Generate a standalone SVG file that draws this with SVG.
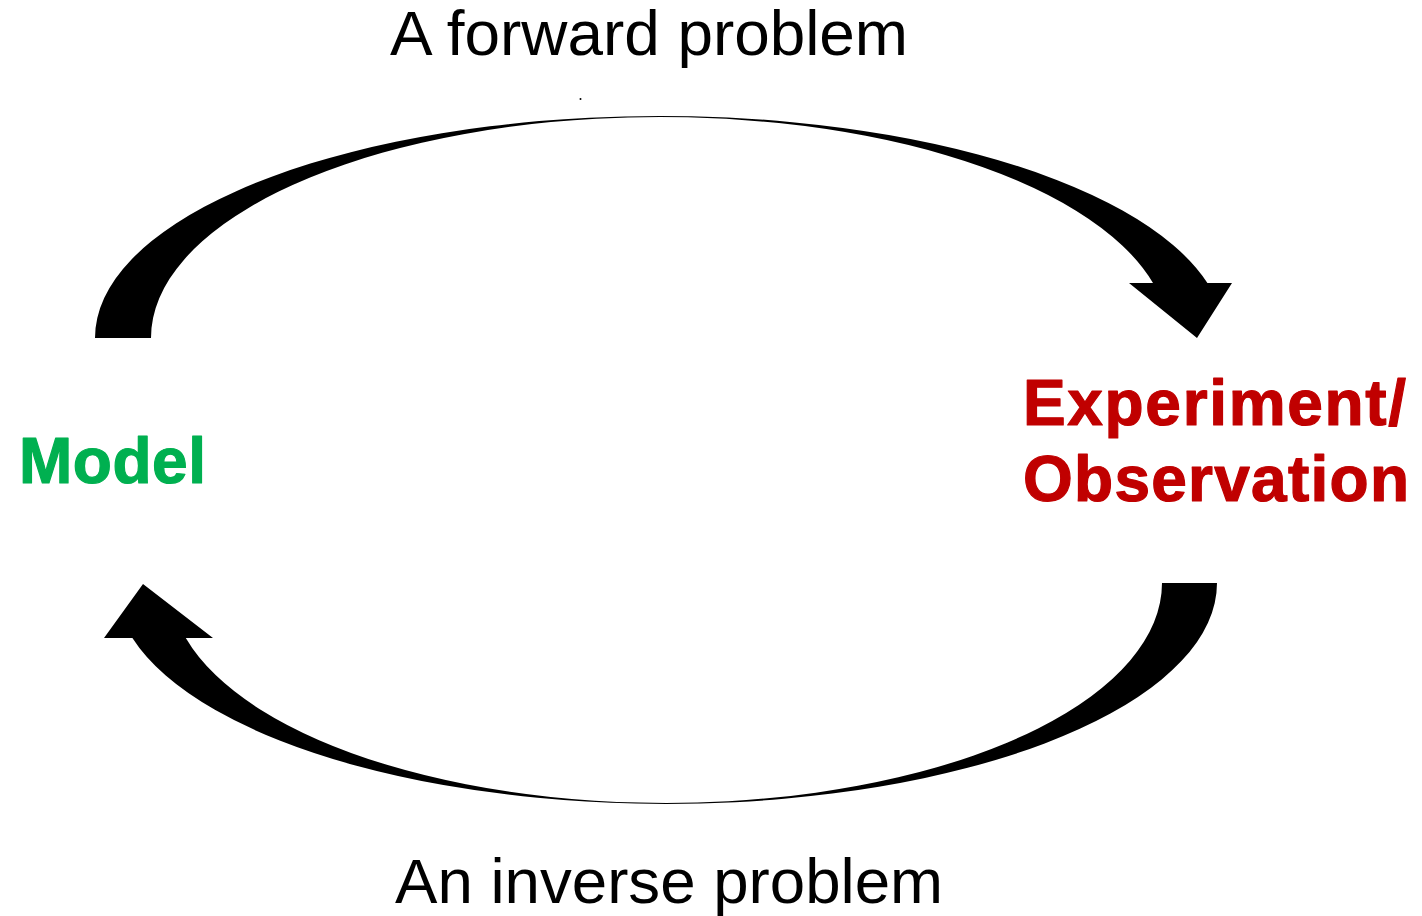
<svg xmlns="http://www.w3.org/2000/svg" width="1422" height="916" viewBox="0 0 1422 916">
<style>
.lbl{font-family:"Liberation Sans",Arial,sans-serif;font-size:63px;fill:#000}
.node{font-family:"Liberation Sans",Arial,sans-serif;font-weight:bold;font-size:64px;stroke-width:1.2;stroke-linejoin:round}
.arrow{fill:#000;stroke:none}
</style>
<rect width="1422" height="916" fill="#fff"/>
<g id="connectors">
<path id="forward" class="arrow" d="M95,338 A565,222 0 0 1 1207.4,283 L1232,283 L1197,338 L1129,283 L1153,283 A509,221 0 0 0 151,338 Z"/>
<path id="inverse" class="arrow" d="M1217,583 A551,221 0 0 1 132.4,638 L104,638 L143,584 L213,638 L185.8,638 A496,220 0 0 0 1162,583 Z"/>
<circle cx="580.5" cy="99" r="1" fill="#000"/>
</g>
<g id="label-forward"><text class="lbl" x="390" y="55" textLength="518" lengthAdjust="spacingAndGlyphs">A forward problem</text></g>
<g id="label-inverse"><text class="lbl" x="395" y="903" textLength="548" lengthAdjust="spacingAndGlyphs">An inverse problem</text></g>
<g id="node-model"><text class="node" x="19" y="483" fill="#00B050" stroke="#00B050" textLength="187" lengthAdjust="spacing">Model</text></g>
<g id="node-experiment">
<text class="node" x="1023" y="425" fill="#C00000" stroke="#C00000" textLength="383" lengthAdjust="spacing">Experiment/</text>
<text class="node" x="1023" y="501" fill="#C00000" stroke="#C00000" textLength="386" lengthAdjust="spacing">Observation</text>
</g>
</svg>
